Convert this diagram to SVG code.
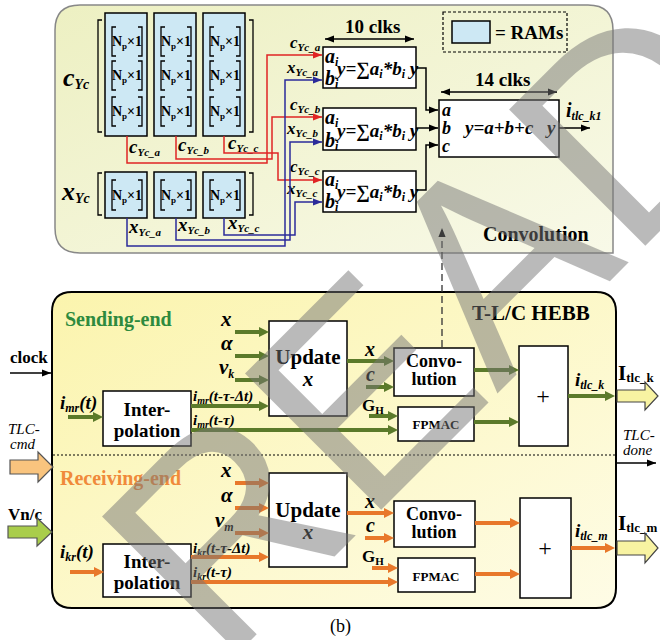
<svg xmlns="http://www.w3.org/2000/svg" width="660" height="640" viewBox="0 0 660 640">
<defs>
<linearGradient id="gTop" x1="0" y1="0" x2="1" y2="1">
<stop offset="0" stop-color="#edf0c2"/>
<stop offset="1" stop-color="#f8f9e8"/>
</linearGradient>
<linearGradient id="gBot" x1="0" y1="0" x2="1" y2="1">
<stop offset="0" stop-color="#fbf4ad"/>
<stop offset="1" stop-color="#fefce6"/>
</linearGradient>
<marker id="aK" viewBox="0 0 10 10" refX="10" refY="5" markerWidth="9" markerHeight="9" markerUnits="userSpaceOnUse" orient="auto-start-reverse"><path d="M0,1 L10,5 L0,9 z" fill="#000"/></marker>
<marker id="aR" viewBox="0 0 10 10" refX="10" refY="5" markerWidth="9" markerHeight="9" markerUnits="userSpaceOnUse" orient="auto"><path d="M0,1 L10,5 L0,9 z" fill="#e02424"/></marker>
<marker id="aB" viewBox="0 0 10 10" refX="10" refY="5" markerWidth="9" markerHeight="9" markerUnits="userSpaceOnUse" orient="auto"><path d="M0,1 L10,5 L0,9 z" fill="#2b2b9a"/></marker>
<marker id="aG" viewBox="0 0 10 10" refX="4" refY="5" markerWidth="10" markerHeight="10" markerUnits="userSpaceOnUse" orient="auto"><path d="M0,0 L10,5 L0,10 z" fill="#5b7a2a"/></marker>
<marker id="aO" viewBox="0 0 10 10" refX="4" refY="5" markerWidth="10" markerHeight="10" markerUnits="userSpaceOnUse" orient="auto"><path d="M0,0 L10,5 L0,10 z" fill="#e8782a"/></marker>
<style>
.b{fill:#fff;stroke:#000;stroke-width:1.5}
.ram{fill:#cde8f4;stroke:#000;stroke-width:1.5}
.br{fill:none;stroke:#000;stroke-width:1.3}
.r{fill:none;stroke:#e02424;stroke-width:1.5}
.u{fill:none;stroke:#2b2b9a;stroke-width:1.5}
.k{fill:none;stroke:#000;stroke-width:1.5}
.g{fill:none;stroke:#5b7a2a;stroke-width:4;marker-end:url(#aG)}
.o{fill:none;stroke:#e8782a;stroke-width:4;marker-end:url(#aO)}
.t{font-family:"Liberation Serif",serif;font-weight:bold}
.ti{font-family:"Liberation Serif",serif;font-weight:bold;font-style:italic}
.it{font-family:"Liberation Serif",serif;font-style:italic;font-size:15px}
.np{font-family:"Liberation Serif",serif;font-weight:bold;font-size:14px;text-anchor:middle}
</style>
</defs>
<rect width="660" height="640" fill="#fff"/>

<!-- top panel -->
<g id="conv-panel">
<path d="M80,5 H588 Q613,5 613,30 V253 H80 Q55,253 55,228 V30 Q55,5 80,5 Z" fill="url(#gTop)" stroke="#888" stroke-width="1.5"/>
<text x="483" y="241" class="t" font-size="20">Convolution</text>
</g>

<g id="legend">
<rect x="443" y="12" width="124" height="40" fill="none" stroke="#000" stroke-width="1.2" stroke-dasharray="3,2"/>
<rect x="452" y="21" width="38" height="22" class="ram"/>
<text x="495" y="39" class="t" font-size="19">= RAMs</text>
</g>

<g id="c-rams">
<text x="63" y="86" class="ti" font-size="26">c<tspan font-size="14" dy="3">Yc</tspan></text>
<path class="br" d="M102,20 H98 V132 H102 M249,20 H253 V132 H249"/>
<rect x="105" y="13" width="42" height="123" class="ram"/>
<rect x="154" y="13" width="42" height="123" class="ram"/>
<rect x="203" y="13" width="42" height="123" class="ram"/>
<path class="br" d="M116,27 H112 V56 H116 M138,27 H142 V56 H138 M116,61 H112 V90 H116 M138,61 H142 V90 H138 M116,97 H112 V126 H116 M138,97 H142 V126 H138"/>
<path class="br" d="M165,27 H161 V56 H165 M187,27 H191 V56 H187 M165,61 H161 V90 H165 M187,61 H191 V90 H187 M165,97 H161 V126 H165 M187,97 H191 V126 H187"/>
<path class="br" d="M214,27 H210 V56 H214 M236,27 H240 V56 H236 M214,61 H210 V90 H214 M236,61 H240 V90 H236 M214,97 H210 V126 H214 M236,97 H240 V126 H236"/>
<text class="np" x="127" y="46">N<tspan font-size="9" dy="3">p</tspan><tspan dy="-3">×1</tspan></text>
<text class="np" x="127" y="80">N<tspan font-size="9" dy="3">p</tspan><tspan dy="-3">×1</tspan></text>
<text class="np" x="127" y="116">N<tspan font-size="9" dy="3">p</tspan><tspan dy="-3">×1</tspan></text>
<text class="np" x="176" y="46">N<tspan font-size="9" dy="3">p</tspan><tspan dy="-3">×1</tspan></text>
<text class="np" x="176" y="80">N<tspan font-size="9" dy="3">p</tspan><tspan dy="-3">×1</tspan></text>
<text class="np" x="176" y="116">N<tspan font-size="9" dy="3">p</tspan><tspan dy="-3">×1</tspan></text>
<text class="np" x="225" y="46">N<tspan font-size="9" dy="3">p</tspan><tspan dy="-3">×1</tspan></text>
<text class="np" x="225" y="80">N<tspan font-size="9" dy="3">p</tspan><tspan dy="-3">×1</tspan></text>
<text class="np" x="225" y="116">N<tspan font-size="9" dy="3">p</tspan><tspan dy="-3">×1</tspan></text>
<text x="129" y="153" class="ti" font-size="19">c<tspan font-size="11" dy="3">Yc_a</tspan></text>
<text x="178" y="151" class="ti" font-size="19">c<tspan font-size="11" dy="3">Yc_b</tspan></text>
<text x="228" y="149" class="ti" font-size="19">c<tspan font-size="11" dy="3">Yc_c</tspan></text>
</g>

<g id="x-rams">
<text x="62" y="200" class="ti" font-size="26">x<tspan font-size="14" dy="3">Yc</tspan></text>
<path class="br" d="M102,173 H98 V215 H102 M249,173 H253 V215 H249"/>
<rect x="105" y="172" width="42" height="46" class="ram"/>
<rect x="154" y="172" width="42" height="46" class="ram"/>
<rect x="203" y="172" width="42" height="46" class="ram"/>
<path class="br" d="M116,180 H112 V210 H116 M138,180 H142 V210 H138 M165,180 H161 V210 H165 M187,180 H191 V210 H187 M214,180 H210 V210 H214 M236,180 H240 V210 H236"/>
<text class="np" x="127" y="200">N<tspan font-size="9" dy="3">p</tspan><tspan dy="-3">×1</tspan></text>
<text class="np" x="176" y="200">N<tspan font-size="9" dy="3">p</tspan><tspan dy="-3">×1</tspan></text>
<text class="np" x="225" y="200">N<tspan font-size="9" dy="3">p</tspan><tspan dy="-3">×1</tspan></text>
<text x="129" y="233" class="ti" font-size="19">x<tspan font-size="11" dy="3">Yc_a</tspan></text>
<text x="178" y="231" class="ti" font-size="19">x<tspan font-size="11" dy="3">Yc_b</tspan></text>
<text x="228" y="229" class="ti" font-size="19">x<tspan font-size="11" dy="3">Yc_c</tspan></text>
</g>

<g id="mac1">
<rect x="323" y="47" width="93" height="41" class="b"/>
<text x="325" y="63" class="ti" font-size="20">a<tspan font-size="12" dy="3">i</tspan></text>
<text x="325" y="85" class="ti" font-size="20">b<tspan font-size="12" dy="3">i</tspan></text>
<text x="337" y="75" class="ti" font-size="19">y=∑a<tspan font-size="12" dy="3">i</tspan><tspan dy="-3">*b</tspan><tspan font-size="12" dy="3">i</tspan><tspan dy="-3"> y</tspan></text>
<text x="290" y="48" class="ti" font-size="17">c<tspan font-size="11" dy="3">Yc_a</tspan></text>
<text x="287" y="73" class="ti" font-size="17">x<tspan font-size="11" dy="3">Yc_a</tspan></text>
</g>
<g id="mac2">
<rect x="323" y="108" width="93" height="42" class="b"/>
<text x="325" y="124" class="ti" font-size="20">a<tspan font-size="12" dy="3">i</tspan></text>
<text x="325" y="147" class="ti" font-size="20">b<tspan font-size="12" dy="3">i</tspan></text>
<text x="337" y="137" class="ti" font-size="19">y=∑a<tspan font-size="12" dy="3">i</tspan><tspan dy="-3">*b</tspan><tspan font-size="12" dy="3">i</tspan><tspan dy="-3"> y</tspan></text>
<text x="290" y="110" class="ti" font-size="17">c<tspan font-size="11" dy="3">Yc_b</tspan></text>
<text x="287" y="134" class="ti" font-size="17">x<tspan font-size="11" dy="3">Yc_b</tspan></text>
</g>
<g id="mac3">
<rect x="323" y="171" width="93" height="41" class="b"/>
<text x="325" y="186" class="ti" font-size="20">a<tspan font-size="12" dy="3">i</tspan></text>
<text x="325" y="208" class="ti" font-size="20">b<tspan font-size="12" dy="3">i</tspan></text>
<text x="337" y="198" class="ti" font-size="19">y=∑a<tspan font-size="12" dy="3">i</tspan><tspan dy="-3">*b</tspan><tspan font-size="12" dy="3">i</tspan><tspan dy="-3"> y</tspan></text>
<text x="290" y="172" class="ti" font-size="17">c<tspan font-size="11" dy="3">Yc_c</tspan></text>
<text x="287" y="194" class="ti" font-size="17">x<tspan font-size="11" dy="3">Yc_c</tspan></text>
</g>
<g id="adder3">
<rect x="439" y="100" width="120" height="57" class="b"/>
<text x="442" y="116" class="ti" font-size="18">a</text>
<text x="442" y="134" class="ti" font-size="18">b</text>
<text x="442" y="152" class="ti" font-size="18">c</text>
<text x="465" y="134" class="ti" font-size="19">y=a+b+c</text>
<text x="547" y="134" class="ti" font-size="19">y</text>
<text x="566" y="117" class="ti" font-size="20">i<tspan font-size="12" dy="3">tlc_k1</tspan></text>
</g>
<g id="clks">
<text x="345" y="33" class="t" font-size="19">10 clks</text>
<text x="475" y="86" class="t" font-size="19">14 clks</text>
</g>

<g id="top-connectors">
<path class="k" d="M325,39 H414" marker-start="url(#aK)" marker-end="url(#aK)"/>
<path class="k" d="M441,92 H557" marker-start="url(#aK)" marker-end="url(#aK)"/>
<path class="r" d="M127,136 V163 H267 V55 H322" marker-end="url(#aR)"/>
<path class="r" d="M176,136 V159 H272 V117 H322" marker-end="url(#aR)"/>
<path class="r" d="M224,136 V153 H278 V180 H322" marker-end="url(#aR)"/>
<path class="u" d="M127,218 V246 H285 V80 H322" marker-end="url(#aB)"/>
<path class="u" d="M176,218 V240 H290 V142 H322" marker-end="url(#aB)"/>
<path class="u" d="M224,218 V235 H295 V202 H322" marker-end="url(#aB)"/>
<path class="k" d="M416,68 H426 V110 H438" marker-end="url(#aK)"/>
<path class="k" d="M416,128 H438" marker-end="url(#aK)"/>
<path class="k" d="M416,190 H426 V145 H438" marker-end="url(#aK)"/>
<path class="k" d="M559,128 H590" marker-end="url(#aK)"/>
</g>

<!-- bottom panel -->
<g id="hebb-panel">
<path d="M72,292 H596 Q616,292 616,312 V588 Q616,608 596,608 H72 Q52,608 52,588 V312 Q52,292 72,292 Z" fill="url(#gBot)" stroke="#000" stroke-width="2"/>
<line x1="53" y1="455" x2="615" y2="455" stroke="#000" stroke-width="1.2" stroke-dasharray="2,2"/>
<text x="472" y="320" class="t" font-size="21">T-L/C HEBB</text>
<text x="65" y="326" class="t" font-size="20" fill="#2e8a3e">Sending-end</text>
<text x="60" y="485" class="t" font-size="20" fill="#f08a3a">Receiving-end</text>
</g>

<g id="interp-s">
<rect x="103" y="391" width="88" height="55" class="b"/>
<text x="147" y="416" class="t" font-size="19" text-anchor="middle">Inter-</text>
<text x="147" y="437" class="t" font-size="19" text-anchor="middle">polation</text>
</g>
<g id="update-s">
<rect x="269" y="321" width="78" height="95" class="b"/>
<text x="308" y="364" class="t" font-size="21" text-anchor="middle">Update</text>
<text x="308" y="386" class="ti" font-size="21" text-anchor="middle">x</text>
</g>
<g id="conv-s">
<rect x="394" y="348" width="80" height="48" class="b"/>
<text x="434" y="367" class="t" font-size="18" text-anchor="middle">Convo-</text>
<text x="434" y="385" class="t" font-size="18" text-anchor="middle">lution</text>
</g>
<g id="fpmac-s">
<rect x="398" y="407" width="76" height="34" class="b"/>
<text x="436" y="429" class="t" font-size="13" text-anchor="middle">FPMAC</text>
</g>
<g id="plus-s">
<rect x="519" y="346" width="49" height="100" class="b"/>
<text x="543" y="404" font-family="Liberation Serif,serif" font-size="24" text-anchor="middle">+</text>
</g>

<g id="interp-r">
<rect x="103" y="544" width="88" height="53" class="b"/>
<text x="147" y="568" class="t" font-size="19" text-anchor="middle">Inter-</text>
<text x="147" y="589" class="t" font-size="19" text-anchor="middle">polation</text>
</g>
<g id="update-r">
<rect x="269" y="473" width="78" height="94" class="b"/>
<text x="308" y="517" class="t" font-size="21" text-anchor="middle">Update</text>
<text x="308" y="539" class="ti" font-size="21" text-anchor="middle">x</text>
</g>
<g id="conv-r">
<rect x="394" y="501" width="81" height="46" class="b"/>
<text x="434" y="520" class="t" font-size="18" text-anchor="middle">Convo-</text>
<text x="434" y="538" class="t" font-size="18" text-anchor="middle">lution</text>
</g>
<g id="fpmac-r">
<rect x="398" y="558" width="77" height="34" class="b"/>
<text x="436" y="581" class="t" font-size="13" text-anchor="middle">FPMAC</text>
</g>
<g id="plus-r">
<rect x="520" y="498" width="51" height="100" class="b"/>
<text x="545" y="556" font-family="Liberation Serif,serif" font-size="24" text-anchor="middle">+</text>
</g>

<g id="labels-s">
<text x="10" y="363" class="t" font-size="17">clock</text>
<text x="60" y="409" class="ti" font-size="19">i<tspan font-size="12" dy="3">mr</tspan><tspan dy="-3">(t)</tspan></text>
<text x="221" y="326" class="ti" font-size="21">x</text>
<text x="221" y="350" class="ti" font-size="21">α</text>
<text x="219" y="374" class="ti" font-size="21">v<tspan font-size="12" dy="4">k</tspan></text>
<text x="193" y="401" class="ti" font-size="15">i<tspan font-size="10" dy="3">mr</tspan><tspan dy="-3">(t-τ-Δt)</tspan></text>
<text x="193" y="425" class="ti" font-size="15">i<tspan font-size="10" dy="3">mr</tspan><tspan dy="-3">(t-τ)</tspan></text>
<text x="365" y="356" class="ti" font-size="20">x</text>
<text x="366" y="381" class="ti" font-size="20">c</text>
<text x="362" y="411" class="t" font-size="17">G<tspan font-size="11" dy="3">H</tspan></text>
<text x="575" y="386" class="ti" font-size="19">i<tspan font-size="12" dy="3">tlc_k</tspan></text>
<text x="618" y="380" class="t" font-size="21">I<tspan font-size="13" dy="2">tlc_k</tspan></text>
<text x="623" y="440" class="it">TLC-</text>
<text x="623" y="455" class="it">done</text>
<text x="8" y="434" class="it">TLC-</text>
<text x="10" y="449" class="it">cmd</text>
</g>
<g id="labels-r">
<text x="8" y="520" class="t" font-size="17">Vn/c</text>
<text x="60" y="558" class="ti" font-size="19">i<tspan font-size="12" dy="3">kr</tspan><tspan dy="-3">(t)</tspan></text>
<text x="221" y="477" class="ti" font-size="21">x</text>
<text x="221" y="502" class="ti" font-size="21">α</text>
<text x="215" y="527" class="ti" font-size="21">v<tspan font-size="12" dy="4">m</tspan></text>
<text x="193" y="553" class="ti" font-size="15">i<tspan font-size="10" dy="3">kr</tspan><tspan dy="-3">(t-τ-Δt)</tspan></text>
<text x="193" y="577" class="ti" font-size="15">i<tspan font-size="10" dy="3">kr</tspan><tspan dy="-3">(t-τ)</tspan></text>
<text x="365" y="508" class="ti" font-size="20">x</text>
<text x="366" y="532" class="ti" font-size="20">c</text>
<text x="362" y="562" class="t" font-size="17">G<tspan font-size="11" dy="3">H</tspan></text>
<text x="575" y="537" class="ti" font-size="19">i<tspan font-size="12" dy="3">tlc_m</tspan></text>
<text x="618" y="530" class="t" font-size="21">I<tspan font-size="13" dy="2">tlc_m</tspan></text>
<text x="330" y="632" font-family="Liberation Serif,serif" font-size="18">(b)</text>
</g>

<g id="connectors">
<path class="k" d="M10,373 H51" marker-end="url(#aK)"/>
<path class="k" d="M617,463 H656" marker-end="url(#aK)"/>
<path d="M442,347 V228" fill="none" stroke="#333" stroke-width="1.3" stroke-dasharray="7,4" marker-end="url(#aK)"/>
<polygon points="617,390 645,390 645,382 658,396 645,410 645,402 617,402" fill="#f8f3a2" stroke="#444" stroke-width="1.2"/>
<polygon points="617,541 645,541 645,533 658,548 645,563 645,555 617,555" fill="#f8f3a2" stroke="#444" stroke-width="1.2"/>
<polygon points="10,460 38,460 38,452 53,467 38,482 38,474 10,474" fill="#f9c47e" stroke="#555" stroke-width="1.2"/>
<polygon points="8,526 37,526 37,518 52,532 37,546 37,538 8,538" fill="#a9cd4b" stroke="#555" stroke-width="1.2"/>

<path class="g" d="M68,417 H97"/>
<path class="g" d="M235,332 H263"/>
<path class="g" d="M235,356 H263"/>
<path class="g" d="M235,380 H263"/>
<path class="g" d="M191,406 H263"/>
<path class="g" d="M191,430 H392"/>
<path class="g" d="M347,361 H388"/>
<path class="g" d="M366,387 H388"/>
<path class="g" d="M369,416 H392"/>
<path class="g" d="M474,370 H513"/>
<path class="g" d="M474,422 H513"/>
<path class="g" d="M568,396 H609"/>

<path class="o" d="M70,572 H98"/>
<path class="o" d="M235,483 H263"/>
<path class="o" d="M235,508 H263"/>
<path class="o" d="M235,533 H263"/>
<path class="o" d="M191,557 H263"/>
<path class="o" d="M191,582 H392"/>
<path class="o" d="M347,513 H388"/>
<path class="o" d="M365,538 H388"/>
<path class="o" d="M372,568 H392"/>
<path class="o" d="M475,523 H514"/>
<path class="o" d="M475,574 H514"/>
<path class="o" d="M571,548 H609"/>
</g>

<g id="watermark" opacity="0.5">
<text transform="translate(222,669) rotate(-45)" font-family="Liberation Sans,sans-serif" font-size="280" fill="#777">READ</text>
</g>
</svg>
